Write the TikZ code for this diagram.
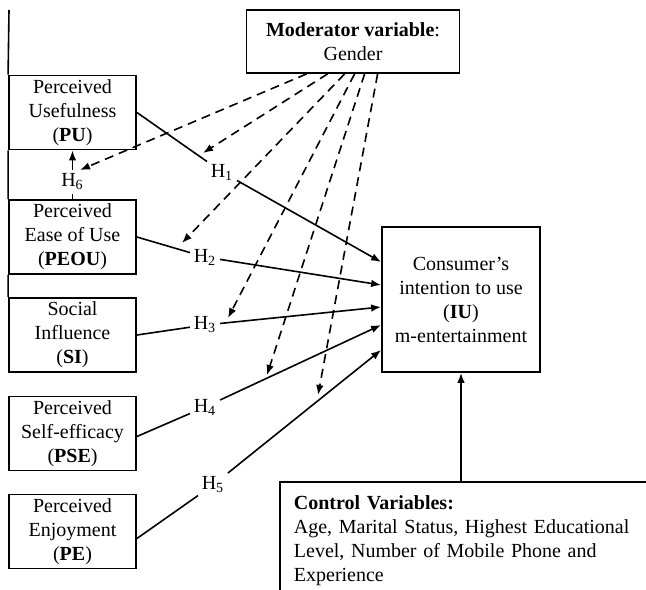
\documentclass[tikz,border=0pt]{standalone}
\usepackage{fontspec}
\setmainfont{Liberation Serif}
\usetikzlibrary{arrows.meta,positioning,calc}

\begin{document}
\begin{tikzpicture}[
            x=0.5pt, y=-0.5pt,
            >={Latex[length=5pt,width=3.8pt]},
            line width=0.8pt,
            box/.style={draw, line width=0.9pt, align=center, inner sep=2pt, minimum width=63.5pt, minimum height=36.5pt},
            hyp/.style={inner sep=1.5pt},
            moddash/.style={->, dash pattern=on 4.5pt off 3pt}
        ]
\useasboundingbox (0,0) rectangle (646,589);
\clip (0,0) rectangle (646,589);

% constructs
            \node[box] (pu) at (72.5,112.5) {Perceived\\Usefulness\\(\textbf{PU})};
            \node[box] (peou) at (72.5,237) {Perceived\\Ease of Use\\(\textbf{PEOU})};
            \node[box] (si) at (72.5,335) {Social\\Influence\\(\textbf{SI})};
            \node[box] (pse) at (72.5,433.5) {Perceived\\Self-efficacy\\(\textbf{PSE})};
            \node[box] (pe) at (72.5,531.5) {Perceived\\Enjoyment\\(\textbf{PE})};
            \node[box, minimum width=106.5pt, minimum height=31.5pt] (mod) at (353,41.5) {\textbf{Moderator variable}:\\Gender};
            \node[box, minimum width=79pt, minimum height=72.5pt] (iu) at (461,299.5) {Consumer’s\\intention to use\\(\textbf{IU})\\m-entertainment};
            \node[draw, line width=0.9pt, anchor=north west, align=left, text width=190pt, inner xsep=7pt, inner ysep=7pt] (ctrl) at (279,481) {\textbf{Control Variables:}\\Age, Marital Status, Highest Educational\\Level, Number of Mobile Phone and\\Experience};

% hypothesis labels
            \node[hyp] (h1) at (222,172) {H\textsubscript{1}};
            \node[hyp] (h2) at (205,257) {H\textsubscript{2}};
            \node[hyp] (h3) at (205,325) {H\textsubscript{3}};
            \node[hyp] (h4) at (205,407) {H\textsubscript{4}};
            \node[hyp] (h5) at (213,485) {H\textsubscript{5}};
            \node[hyp] (h6) at (72.5,182) {H\textsubscript{6}};

% ends of the moderator arrows
            \coordinate (top) at (9,10);
            \coordinate (m6) at (80,170);
            \coordinate (m1) at (203,153);
            \coordinate (m2) at (182,243);
            \coordinate (m3) at (228,318);
            \coordinate (m4) at (267,375);
            \coordinate (m5) at (318,395);

% frame line
            \draw (top) -- (pu.north west) (pu.south west) -- (peou.north west) (peou.south west) -- (si.north west);

% paths
            \draw (pu.east) -- (h1);
            \draw[->] (h1) -- ($(iu.west)+(0,-37.5)$);
            \draw (peou.east) -- (h2);
            \draw[->] (h2) -- ($(iu.west)+(0,-14.5)$);
            \draw (si.east) -- (h3);
            \draw[->] (h3) -- ($(iu.west)+(0,7.5)$);
            \draw ($(pse.east)+(0,3)$) -- (h4);
            \draw[->] (h4) -- ($(iu.west)+(0,25.5)$);
            \draw ($(pe.east)+(0,7)$) -- (h5);
            \draw[->] (h5) -- ($(iu.west)+(0,50.5)$);
            \draw (peou.north) -- (h6);
            \draw[->] (h6) -- (pu.south);
            \draw[->] (ctrl.north -| iu.south) -- (iu.south);

% moderator
            \draw[moddash] ($(mod.south west)+(61,0)$) -- (m6);
            \draw[moddash] ($(mod.south west)+(82,0)$) -- (m1);
            \draw[moddash] ($(mod.south west)+(99,0)$) -- (m2);
            \draw[moddash] ($(mod.south west)+(109,0)$) -- (m3);
            \draw[moddash] ($(mod.south west)+(119,0)$) -- (m4);
            \draw[moddash] ($(mod.south west)+(132,0)$) -- (m5);

        \end{tikzpicture}
\end{document}
